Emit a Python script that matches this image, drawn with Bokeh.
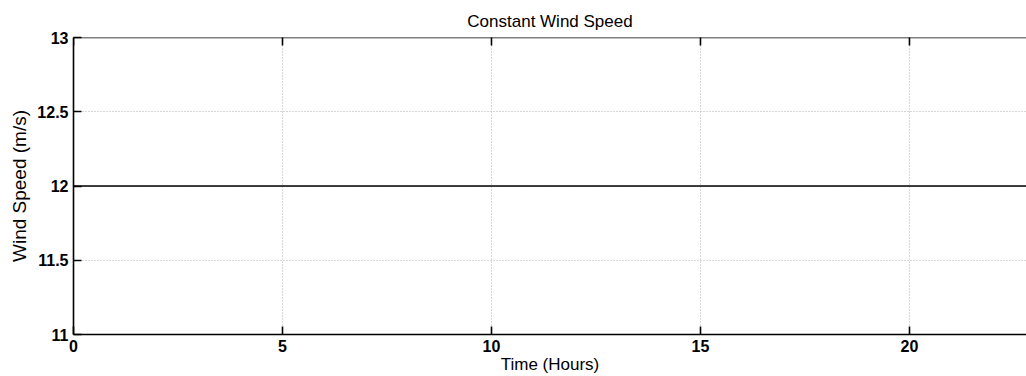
import math
from bokeh.plotting import figure
from bokeh.models import Range1d, FixedTicker, Span
from bokeh.embed import file_html
from bokeh.resources import INLINE

# Wind speed held constant over the simulated day
time_hours = [0, 23]
wind_speed = [12.0, 12.0]

x_ticks = [0, 5, 10, 15, 20]
y_ticks = [11, 11.5, 12, 12.5, 13]
y_tick_labels = {11: "11", 11.5: "11.5", 12: "12", 12.5: "12.5", 13: "13"}

X_MAX = 22.8
Y_MIN, Y_MAX = 11, 13
FONT = "Liberation Sans"

p = figure(width=1026, height=376, output_backend="svg", toolbar_location=None,
           x_range=Range1d(0, X_MAX), y_range=Range1d(Y_MIN, Y_MAX),
           min_border_left=73, min_border_right=0, min_border_bottom=8,
           min_border_top=37)

p.title.text = "Constant Wind Speed"
p.title.align = "center"
p.title.text_font = FONT
p.title.text_font_size = "17px"
p.title.text_font_style = "normal"
p.title.text_color = "black"
p.title.offset = 0
p.title.standoff = 14

p.line(time_hours, wind_speed, line_color="black", line_width=1.6)

p.outline_line_color = None
p.background_fill_color = "white"
p.border_fill_color = "white"

for ax in (p.xaxis[0], p.yaxis[0]):
    ax.axis_line_color = "black"
    ax.axis_line_width = 1.6
    ax.major_tick_in = 8
    ax.major_tick_out = 0
    ax.major_tick_line_width = 1.6
    ax.major_tick_line_color = "black"
    ax.minor_tick_line_color = None
    ax.major_label_text_font = FONT
    ax.major_label_text_font_style = "bold"
    ax.major_label_text_font_size = "16px"
    ax.major_label_text_color = "black"
    ax.axis_label_text_font = FONT
    ax.axis_label_text_font_style = "normal"
    ax.axis_label_text_color = "black"

p.xaxis[0].ticker = FixedTicker(ticks=x_ticks)
p.yaxis[0].ticker = FixedTicker(ticks=y_ticks)
p.yaxis[0].major_label_overrides = y_tick_labels
p.xaxis[0].axis_label = "Time (Hours)"
p.yaxis[0].axis_label = "Wind Speed (m/s)"
p.xaxis[0].axis_label_text_font_size = "17px"
p.yaxis[0].axis_label_text_font_size = "19px"
p.xaxis[0].major_label_standoff = 5
p.xaxis[0].axis_label_standoff = 0
p.yaxis[0].major_label_standoff = 5
p.yaxis[0].axis_label_standoff = 4

# top edge of the box, with inward ticks along it
p.add_layout(Span(location=Y_MAX, dimension="width", line_color="black", line_width=1.6))
p.scatter(x_ticks, [Y_MAX] * len(x_ticks), marker="dash", size=16, angle=math.pi / 2,
          line_color="black", line_width=1.6)

for g in (p.xgrid[0], p.ygrid[0]):
    g.grid_line_color = "#b0b0b0"
    g.grid_line_dash = "1 2"
    g.grid_line_width = 1
p.xgrid[0].ticker = FixedTicker(ticks=x_ticks)
p.ygrid[0].ticker = FixedTicker(ticks=y_ticks)

open("out.html", "w").write(file_html(p, INLINE))
